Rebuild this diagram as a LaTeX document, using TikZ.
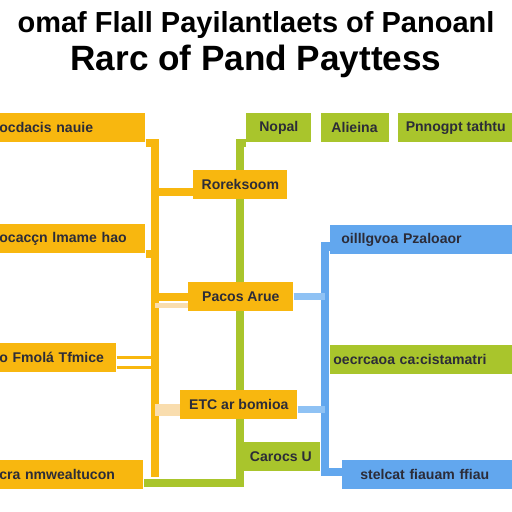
\documentclass[tikz,border=0pt]{standalone}
\usepackage{fontspec}
\setmainfont{Liberation Sans}
\usetikzlibrary{positioning}
\definecolor{boxyellow}{HTML}{F8B70F}
\definecolor{boxgreen}{HTML}{A9C52C}
\definecolor{boxblue}{HTML}{62A7EE}
\definecolor{lightblue}{HTML}{8FC2F4}
\definecolor{peach}{HTML}{F9DDAE}
\definecolor{textdark}{HTML}{2C2C38}
\pgfdeclarelayer{background}
\pgfsetlayers{background,main}

\begin{document}
\begin{tikzpicture}[x=0.02cm, y=-0.02cm, node distance=0.17cm,
    box/.style={anchor=north west, inner sep=0pt, inner xsep=0.06cm, minimum height=0.58cm,
        text=textdark, font=\fontsize{8}{9.5}\selectfont\bfseries},
    ybox/.style={box, fill=boxyellow},
    gbox/.style={box, fill=boxgreen},
    bbox/.style={box, fill=boxblue},
    yline/.style={boxyellow, line width=4.5pt},
    gline/.style={boxgreen, line width=4.5pt},
    bline/.style={boxblue, line width=5pt},
    lbline/.style={lightblue, line width=4pt},
    pline/.style={peach, line width=3pt}]
    \useasboundingbox (0,0) rectangle (512,512);

    % title
    \node[anchor=base, font=\fontsize{16.5}{19}\selectfont\bfseries] (title1) at (256,32) {omaf Flall Payilantlaets of Panoanl};
    \node[anchor=base, font=\fontsize{20}{22}\selectfont\bfseries] (title2) at (256,70) {Rarc of Pand Payttess};

    % left column
    \node[ybox, text width=2.86cm, align=left] (L1) at (-4,113) {ocdacis nauie};
    \node[ybox, text width=2.86cm, align=left] (L2) at (-4,224) {ocacçn lmame hao};
    \node[ybox, text width=2.28cm, align=left] (L3) at (-4,343) {o Fmolá Tfmice};
    \node[ybox, text width=2.82cm, align=left] (L4) at (-4,460) {cra nmwealtucon};

    % middle
    \node[ybox, minimum width=1.88cm] (C1) at (193,170) {Roreksoom};
    \node[ybox, minimum width=2.10cm] (C2) at (188,282) {Pacos Arue};
    \node[ybox, minimum width=2.34cm] (C3) at (180,390) {ETC ar bomioa};
    \node[gbox, minimum width=1.58cm] (C4) at (241,442) {Carocs U};

    % top row
    \node[gbox, minimum width=1.30cm] (G1) at (246,113) {Nopal};
    \node[gbox, minimum width=1.36cm, right=of G1] (G2) {Alieina};
    \node[gbox, minimum width=2.32cm, right=of G2] (G3) {Pnnogpt tathtu};

    % right column
    \node[bbox, text width=3.52cm, align=left] (B1) at (330,225) {\hspace{0.16cm}oilllgvoa Pzaloaor};
    \node[gbox, text width=3.52cm, align=left] (B2) at (330,345) {oecrcaoa ca:cistamatri};
    \node[bbox, text width=3.28cm, align=left] (B3) at (342,460) {\hspace{0.3cm}stelcat fiauam ffiau};

    \coordinate (ybot) at (155,477);
    \coordinate (gbot) at (240,483);
    \coordinate (bbot) at (325,472);
    \coordinate (c1low) at ([yshift=-0.14cm]C1.west);
    \coordinate (c2low) at ([yshift=0.12cm]C2.south west);
    \coordinate (c3mid) at ([yshift=-0.1cm]C3.center);
    \coordinate (l3low) at ([yshift=-0.2cm]L3.east);
    \coordinate (b1low) at ([yshift=0.16cm]B1.south west);

    \begin{pgfonlayer}{background}
        \fill[white] (0,0) rectangle (512,512);
        \draw[gline] (G1.south west) -| (gbot) -- (gbot -| L4.east);
        \draw[yline] (L1.south east) -| (ybot);
        \draw[yline] (L2.south east) -- (L2.south east -| ybot);
        \draw[yline] (c1low) -- (c1low -| ybot);
        \draw[yline] (C2.west) -- (C2.west -| ybot);
        \draw[pline] (c2low) -- (c2low -| ybot);
        \draw[boxyellow, line width=1.8pt] (L3.east) -- (L3.east -| ybot);
        \draw[boxyellow, line width=1.8pt] (l3low) -- (l3low -| ybot);
        \draw[peach, line width=7pt] (c3mid -| ybot) -- (c3mid -| C3.west);
        \draw[bline] (b1low) -| (bbot) -- (bbot -| B3.west);
        \draw[lbline] (C2.east) -- (C2.east -| bbot);
        \draw[lbline] (c3mid -| C3.east) -- (c3mid -| bbot);
    \end{pgfonlayer}
\end{tikzpicture}
\end{document}
